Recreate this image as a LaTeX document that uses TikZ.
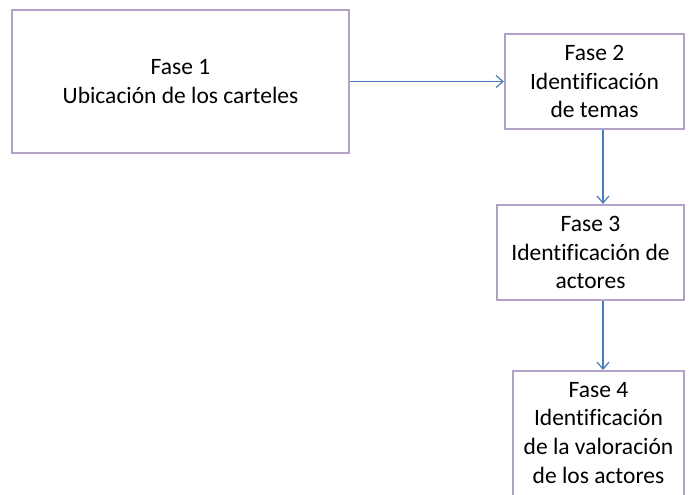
\documentclass[tikz,border=0pt]{standalone}
\usepackage{fontspec}
\setmainfont[Ligatures=NoCommon]{Carlito}
\usetikzlibrary{arrows.meta}
\definecolor{boxline}{RGB}{179,162,199}
\definecolor{arrline}{RGB}{74,126,187}
\tikzset{
  phase/.style={draw=boxline, line width=2.2pt, fill=white, inner sep=0pt, align=center,
    font=\fontsize{23.5}{28.7}\selectfont},
  phasetext/.style={inner sep=0pt, align=center, font=\fontsize{23.5}{28.7}\selectfont},
  arr/.style={draw=arrline, line width=1.2pt, -{Straight Barb[length=7pt,width=12pt,line width=1.2pt]}}
}
\begin{document}
\begin{tikzpicture}[x=1pt,y=-1pt]
\useasboundingbox (0,0) rectangle (689,495);
\clip (0,0) rectangle (689,495);
\node[phase, minimum width=337pt, minimum height=143pt] (b1) at (180.5,81.5) {Fase 1\\Ubicación de los carteles};
\node[phase, minimum width=179pt, minimum height=95pt] (b2) at (594.5,81.5) {Fase 2\\Identificación\\de temas};
\node[phase, minimum width=187pt, minimum height=95pt] (b3) at (590.5,252.5) {Fase 3\\Identificación de\\actores};
\node[draw=boxline, line width=2.2pt, minimum width=171pt, minimum height=150pt, anchor=north] (b4) at (598.5,370) {};
\node[phasetext, anchor=north] (t4) at (598.5,382) {Fase 4\\Identificación\\de la valoración\\de los actores};
\draw[arr] (b1.east) -- (b2.west);
\draw[arr] ([xshift=8.5pt]b2.south) -- ([xshift=12.5pt]b3.north);
\draw[arr] ([xshift=12.5pt]b3.south) -- ([xshift=4.5pt]b4.north);
\end{tikzpicture}
\end{document}
